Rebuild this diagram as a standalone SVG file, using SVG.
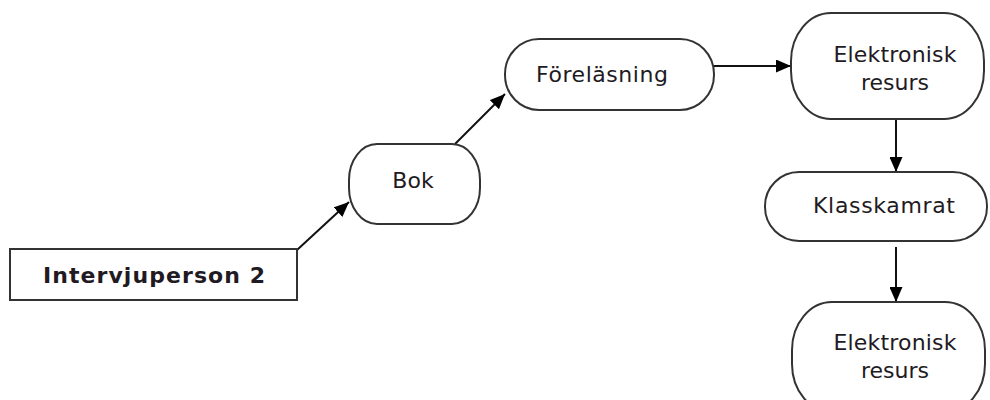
<svg xmlns="http://www.w3.org/2000/svg" width="990" height="400" viewBox="0 0 990 400">
  <defs>
    <marker id="arrow" viewBox="0 0 15 13" refX="15" refY="6.5" markerWidth="15" markerHeight="13" markerUnits="userSpaceOnUse" orient="auto">
      <path d="M0,0 L15,6.5 L0,13 Z" fill="#000"/>
    </marker>
  </defs>
  <style>
    .node { fill: #fff; stroke: #333; stroke-width: 2; }
    .label { font-family: "DejaVu Sans", Verdana, sans-serif; font-size: 22px; fill: #221a22; text-anchor: middle; }
    .bold { font-weight: bold; }
    .edge { stroke: #111; stroke-width: 2; fill: none; marker-end: url(#arrow); }
  </style>
  <rect width="990" height="400" fill="#fff"/>

  <g id="connectors">
    <line class="edge" x1="297" y1="250" x2="349" y2="202"/>
    <line class="edge" x1="455" y1="144" x2="505" y2="94"/>
    <line class="edge" x1="714" y1="66" x2="791" y2="66"/>
    <line class="edge" x1="896" y1="119" x2="896" y2="172"/>
    <line class="edge" x1="896" y1="247" x2="896" y2="302"/>
  </g>

  <g id="intervjuperson">
    <rect class="node" x="10" y="249" width="287" height="51"/>
    <text class="label bold" x="154" y="283" textLength="222" lengthAdjust="spacing">Intervjuperson 2</text>
  </g>

  <g id="bok">
    <rect class="node" x="349" y="144" width="131" height="80" rx="28" ry="36"/>
    <text class="label" x="413" y="188">Bok</text>
  </g>

  <g id="forelasning">
    <rect class="node" x="505" y="39" width="209" height="71" rx="34" ry="35"/>
    <text class="label" x="602" y="82" textLength="132" lengthAdjust="spacing">Föreläsning</text>
  </g>

  <g id="elektronisk-resurs-1">
    <rect class="node" x="791" y="13" width="193" height="106" rx="40" ry="48"/>
    <text class="label" x="895" y="62" textLength="123" lengthAdjust="spacing">Elektronisk</text>
    <text class="label" x="895" y="90">resurs</text>
  </g>

  <g id="klasskamrat">
    <rect class="node" x="765" y="172" width="222" height="69" rx="34" ry="34"/>
    <text class="label" x="884" y="213" textLength="142" lengthAdjust="spacing">Klasskamrat</text>
  </g>

  <g id="elektronisk-resurs-2">
    <rect class="node" x="792" y="302" width="193" height="110" rx="40" ry="48"/>
    <text class="label" x="895" y="350" textLength="123" lengthAdjust="spacing">Elektronisk</text>
    <text class="label" x="895" y="378">resurs</text>
  </g>
</svg>
